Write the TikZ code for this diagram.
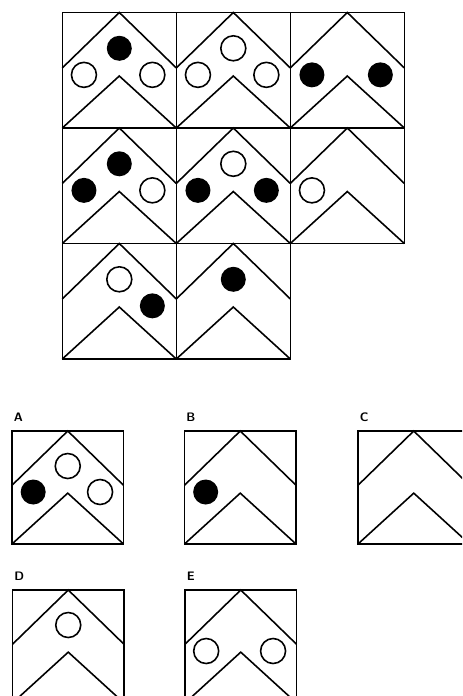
\documentclass[tikz,border=0pt]{standalone}
\usepackage{tikz}

% one square of the puzzle: frame, two chevrons and three dot places
\newcommand{\tile}[6]{%
	\begin{scope}[shift={#1}, x=#2cm, y=#3cm]
		\draw (0,0) rectangle (1,1);
		\draw (0,0.52) -- (0.5,1) -- (1,0.52);
		\draw (0,0) -- (0.5,0.45) -- (1,0);
		\path[#4] (0.5,0.69) circle (0.25cm);
		\path[#5] (0.19,0.46) circle (0.25cm);
		\path[#6] (0.79,0.46) circle (0.25cm);
	\end{scope}}

\begin{document}
\begin{tikzpicture}[line width=0.9pt, line join=miter,
	full/.style={fill=black}, open/.style={draw, fill=white}, none/.style={},
	every node/.style={font=\sffamily\bfseries\fontsize{7}{8}\selectfont, inner sep=0pt}]
	\useasboundingbox (0,0) rectangle (9.24,13.92);
	\clip (0,0) rectangle (9.24,13.92);
	% the 3x3 grid, last square missing
	\tile{(1.246,11.36)}{2.28}{2.31}{full}{open}{open}
	\tile{(3.526,11.36)}{2.28}{2.31}{open}{open}{open}
	\tile{(5.806,11.36)}{2.28}{2.31}{none}{full}{full}
	\tile{(1.246,9.05)}{2.28}{2.31}{full}{full}{open}
	\tile{(3.526,9.05)}{2.28}{2.31}{open}{full}{full}
	\tile{(5.806,9.05)}{2.28}{2.31}{none}{open}{none}
	\tile{(1.246,6.74)}{2.28}{2.31}{open}{none}{full}
	\tile{(3.526,6.74)}{2.28}{2.31}{full}{none}{none}
	% the answers
	\tile{(0.24,3.04)}{2.23}{2.26}{open}{full}{open}
	\tile{(3.69,3.04)}{2.23}{2.26}{none}{full}{none}
	\tile{(7.16,3.04)}{2.23}{2.26}{none}{none}{none}
	\tile{(0.25,-0.14)}{2.23}{2.26}{open}{none}{none}
	\tile{(3.70,-0.14)}{2.23}{2.26}{none}{open}{open}
	\node[anchor=base west] (lblA) at (0.26,5.48) {A};
	\node[anchor=base west] (lblB) at (3.71,5.48) {B};
	\node[anchor=base west] (lblC) at (7.18,5.48) {C};
	\node[anchor=base west] (lblD) at (0.27,2.30) {D};
	\node[anchor=base west] (lblE) at (3.72,2.30) {E};
\end{tikzpicture}
\end{document}
